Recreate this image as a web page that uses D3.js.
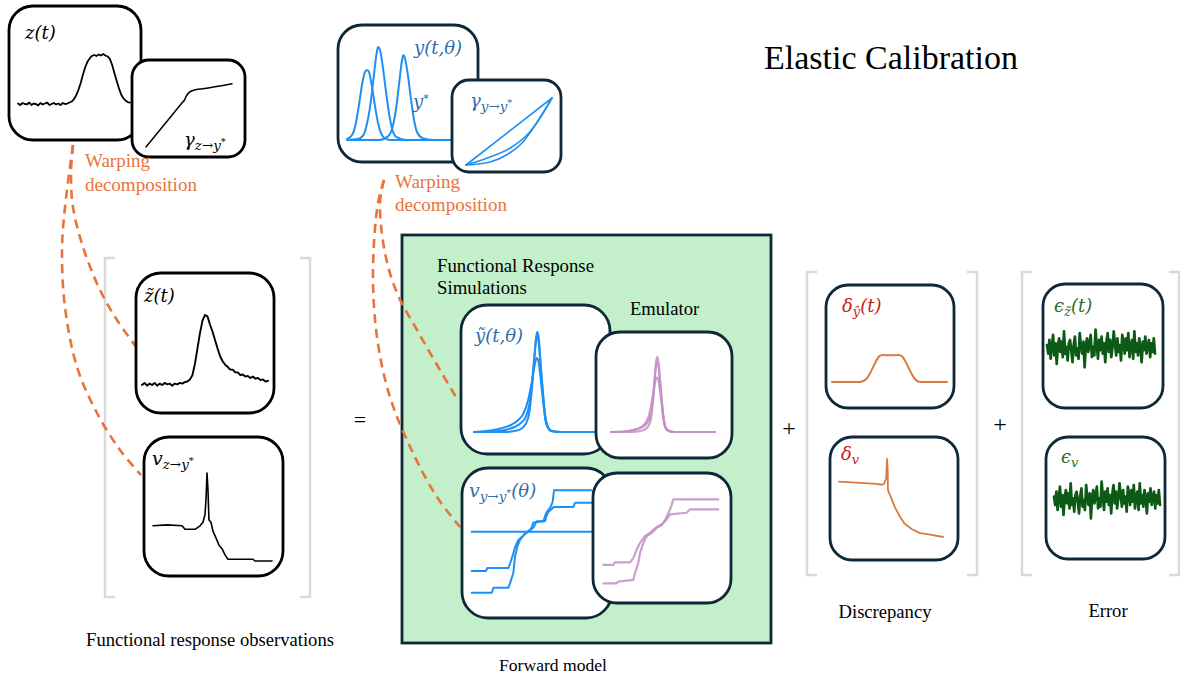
<!DOCTYPE html>
<html><head><meta charset="utf-8">
<script src="https://cdn.jsdelivr.net/npm/d3@7"></script>
<style>body{margin:0;background:#fff}svg{display:block}
.sf{font-family:"Liberation Serif","Times New Roman","DejaVu Serif",serif}
.mf{font-family:"DejaVu Serif","Liberation Serif",serif;font-style:italic}
</style>
</head><body><svg id="c" width="1180" height="679"></svg>
<script>
// ---------------- DATA ----------------
const zVals = [0.01,-0.02,0.02,0.0,-0.01,0.03,-0.02,0.01,0.0,-0.03,0.02,-0.01,0.01,0.03,-0.02,0.0,0.02,-0.01,0.01,-0.02,0.02,0.0,0.01,0.03,
  0.05,0.1,0.18,0.29,0.43,0.6,0.75,0.86,0.93,0.98,1.0,0.98,1.01,0.99,1.02,0.99,0.97,0.92,0.8,0.64,0.48,0.33,0.2,0.12,0.07,0.04,0.03];
const gammaZ = [[0,0],[0.42,0.69],[0.45,0.74],[0.47,0.8],[0.5,0.85],[0.56,0.89],[0.66,0.91],[1,0.99]];
const yRun1 = [[0,0.01],[5,0.06],[8,0.17],[11,0.37],[14,0.6],[17,0.74],[18.5,0.75],[20,0.74],[23,0.58],[26,0.36],[29,0.17],[32,0.06],[35,0.02],[40,0],[100,0]];
const yRun2 = [[0,0],[10,0.01],[15,0.05],[18,0.15],[21,0.33],[24,0.6],[27,0.9],[28.7,1.0],[30.5,0.97],[33,0.8],[36,0.53],[39,0.28],[42,0.11],[46,0.03],[55,0],[100,0]];
const yRun3 = [[0,0],[30,0],[38,0.04],[42,0.13],[45,0.3],[48,0.58],[51,0.86],[52,0.91],[53,0.9],[56,0.73],[59,0.46],[62,0.22],[65,0.08],[70,0.02],[80,0],[100,0]];
const gammaY1 = [[0,0],[1,1]];
const gammaY2 = [[0,0],[0.24,0.1],[0.51,0.25],[0.74,0.49],[1,1]];
const gammaY3 = [[0,0],[0.28,0.045],[0.47,0.15],[0.66,0.34],[0.83,0.64],[1,1]];
const ztVals = [0.0,0.03,-0.01,0.02,0.0,0.03,-0.01,0.02,0.0,0.03,0.01,0.02,-0.01,0.02,0.01,0.03,0.02,0.04,
  0.05,0.08,0.14,0.3,0.52,0.74,0.92,1.0,0.98,0.86,0.76,0.64,0.52,0.41,0.34,0.29,0.26,0.22,0.22,0.18,0.18,0.14,0.15,0.12,0.13,0.1,0.12,0.09,0.1,0.07,0.08,0.05,0.06];
const vzPts = [[0,0.4],[12,0.41],[24.4,0.4],[26.9,0.36],[35.3,0.36],[39.5,0.4],[42,0.44],[43.7,0.53],[44.5,0.69],[45.4,1.0],[46.2,0.81],[47,0.47],[48.7,0.44],[50.4,0.34],[53,0.26],[55.5,0.18],[58,0.14],[60.5,0.07],[63,0.02],[84,0.02],[85.7,0],[100,0]];
const ytRun1 = [[0,0],[25,0],[33,0.01],[38,0.03],[42,0.08],[45,0.2],[47,0.42],[49,0.72],[50.5,0.95],[51.5,1.0],[52.5,0.95],[54,0.72],[56,0.4],[58,0.15],[60,0.05],[63,0.01],[70,0],[100,0]];
const ytRun2 = [[0,0],[15,0.005],[25,0.02],[33,0.05],[38,0.09],[42,0.15],[45,0.28],[47,0.48],[49,0.75],[50.5,0.92],[51.5,0.95],[52.5,0.9],[54,0.68],[56,0.38],[58,0.14],[60,0.05],[63,0.01],[70,0],[100,0]];
const ytRun3 = [[0,0],[10,0.01],[20,0.03],[30,0.07],[36,0.12],[40,0.18],[44,0.32],[47,0.5],[49,0.65],[51,0.74],[52.5,0.7],[54,0.55],[56,0.32],[58,0.12],[60,0.04],[63,0.01],[70,0],[100,0]];
const emRun1 = [[0,0],[20,0],[30,0.02],[35,0.06],[38,0.15],[40,0.35],[42,0.7],[43.5,0.95],[44.5,1],[45.5,0.95],[47,0.7],[49,0.38],[51,0.14],[53,0.04],[56,0.01],[62,0],[100,0]];
const emRun2 = [[0,0],[15,0.01],[25,0.04],[32,0.08],[36,0.15],[39,0.3],[41,0.55],[43,0.85],[44.5,0.93],[46,0.85],[48,0.55],[50,0.25],[52,0.08],[55,0.02],[60,0],[100,0]];
const emRun3 = [[0,0],[15,0.01],[25,0.04],[32,0.1],[36,0.2],[39,0.38],[41,0.55],[43,0.7],[44.5,0.73],[46,0.66],[48,0.45],[50,0.22],[52,0.08],[55,0.02],[60,0],[100,0]];
const vyRun1 = [[0,0],[16.7,0],[18.1,0.048],[30.6,0.048],[31.9,0.09],[34.7,0.19],[36.1,0.35],[38.1,0.45],[40.3,0.51],[43.6,0.56],[47.2,0.59],[50,0.63],[51.4,0.68],[59.7,0.69],[61.1,0.74],[62.5,0.78],[65.8,0.83],[67.5,0.88],[68.6,0.99],[100,0.99]];
const vyRun2 = [[0,0.21],[11.9,0.21],[13.1,0.24],[30.6,0.24],[31.9,0.28],[34.7,0.38],[36.1,0.44],[38.9,0.51],[41.7,0.54],[45.3,0.58],[49.2,0.61],[51.4,0.63],[54.2,0.69],[61.1,0.69],[62.5,0.75],[63.9,0.78],[67.5,0.82],[68.6,0.83],[84.7,0.83],[86.1,0.87],[100,0.87]];
const vyRun3 = [[0,0.59],[100,0.59]];
const evRun1 = [[0,0],[11.6,0],[13,0.02],[26,0.04],[27.5,0.12],[30.4,0.24],[31.9,0.36],[34.8,0.48],[37.7,0.56],[42,0.6],[46.4,0.66],[50.7,0.69],[53.6,0.75],[56.5,0.83],[59.4,0.93],[60.9,1],[100,1]];
const evRun2 = [[0,0.22],[8.7,0.22],[10.1,0.25],[23.2,0.25],[26.1,0.3],[29,0.4],[31.9,0.48],[36.2,0.56],[40.6,0.6],[46.4,0.67],[49.3,0.69],[52.2,0.72],[55.1,0.76],[58,0.82],[72.5,0.84],[75.4,0.88],[100,0.88]];
const evRun3 = [[0,0.6],[100,0.6]];
const deltaY = [[0,0],[22,0],[26,0.02],[30,0.12],[34,0.4],[38,0.75],[41,0.95],[44,1],[51,0.99],[58,1],[61,0.95],[64,0.75],[68,0.4],[72,0.12],[75,0.02],[79,0],[100,0]];
const deltaV = [[0,0.71],[12,0.7],[24,0.69],[36,0.68],[41,0.67],[43.3,0.68],[45.3,0.75],[46.2,1.0],[46.8,0.85],[47.1,0.6],[49,0.54],[53.8,0.38],[58.7,0.26],[62.5,0.18],[66,0.14],[70.2,0.1],[77.9,0.05],[87.5,0.03],[100,0]];
const noiseVals = [0.2,-0.3,0.5,-0.6,0.1,0.8,-0.4,0.3,-0.9,0.2,0.6,-0.2,0.4,-0.5,1.0,-0.3,0.1,-0.7,0.3,0.5,
  -0.1,-0.8,0.2,0.7,-0.4,0.0,-0.6,0.9,0.1,-0.3,0.4,-1.1,0.2,0.6,-0.2,0.3,0.8,-0.5,0.1,-0.4,
  1.1,0.2,-0.6,0.5,-0.1,0.7,-0.3,0.3,-0.8,0.4,0.9,-0.2,0.5,-0.5,0.1,1.0,0.3,-0.4,0.6,-0.2,
  0.2,-0.7,0.8,0.4,-0.3,0.6,-0.1,0.9,-0.5,0.2,0.5,-0.6,1.0,-0.2,0.3,-0.4,0.6,0.1,-0.8,0.4,
  -0.1,0.7,-0.3,0.2,0.5,-0.5,0.3,-0.2,0.6,-0.3];
const titleText = "Elastic Calibration";
const captions = ["Functional response observations","Forward model","Discrepancy","Error"];
const warpText = ["Warping","decomposition"];
const simText = ["Functional Response","Simulations"];
const emuText = "Emulator";

// ---------------- STYLE ----------------
const C = {navy:"#0f2838", black:"#000", blue:"#1e8ff5", blueLab:"#2f6ea8", purple:"#c48fc6",
  orange:"#e8743b", disc:"#da7a3e", green:"#0b5a14", red:"#c8201c", greenLab:"#2e6b2e",
  gray:"#d9d9d9", fill:"#c3efca"};

const svg = d3.select("#c");
const defs = svg.append("defs");
defs.append("filter").attr("id","soft").append("feGaussianBlur").attr("stdDeviation",0.55);
defs.append("filter").attr("id","soft2").append("feGaussianBlur").attr("stdDeviation",0.65);

function box(x,y,w,h,r,stroke){
  svg.append("rect").attr("x",x).attr("y",y).attr("width",w).attr("height",h).attr("rx",r).attr("ry",r)
    .attr("fill","#fff").attr("stroke",stroke).attr("stroke-width",2.8);
}
function curve(pts, xr, yr, xd, yd, style){
  const data = typeof pts[0] === "number" ? pts.map((v,i)=>[i*(xd[1]-xd[0])/(pts.length-1)+xd[0], v]) : pts;
  const xs = d3.scaleLinear().domain(xd).range(xr);
  const ys = d3.scaleLinear().domain(yd).range(yr);
  const line = d3.line().x(d=>xs(d[0])).y(d=>ys(d[1])).curve(style.curve || d3.curveLinear);
  const p = svg.append("path").attr("d",line(data)).attr("fill","none")
    .attr("stroke",style.color).attr("stroke-width",style.w||2).attr("stroke-linejoin","round").attr("stroke-linecap","round");
  if(style.op) p.attr("opacity",style.op);
  if(style.filter) p.attr("filter",style.filter);
}
function label(x,y,parts,color){
  const t = svg.append("text").attr("class","mf").attr("x",x).attr("y",y).attr("fill",color);
  parts.forEach(p=>t.append("tspan").text(p[0]).attr("dy",p[1]).style("font-size",p[2]+"px"));
}
function text(x,y,s,size,color,anchor){
  svg.append("text").attr("class","sf").attr("x",x).attr("y",y).text(s).style("font-size",size+"px")
    .attr("fill",color||"#000").attr("text-anchor",anchor||"start");
}
function bracket(x,y0,y1,dir){
  svg.append("path").attr("d",`M${x+dir*10},${y0}H${x}V${y1}H${x+dir*10}`).attr("fill","none")
    .attr("stroke",C.gray).attr("stroke-width",2.5);
}
const dash = (pts)=>svg.append("path").attr("d",d3.line().curve(d3.curveCatmullRom.alpha(0.5))(pts))
  .attr("fill","none").attr("stroke",C.orange).attr("stroke-width",2.6).attr("stroke-dasharray","9,6");

// ---------------- TOP ROW ----------------
text(891,69,titleText,34,"#000","middle");

box(9,6,132,134,24,C.black);
curve(zVals,[18,130],[104,55],[0,100],[0,1],{color:C.black,w:1.8});
label(25,39,[["z(t)",0,18]],"#000");
box(132,60,113,97,17,C.black);
curve(gammaZ,[146,232],[147,83],[0,1],[0,1],{color:C.black,w:1.5,curve:d3.curveMonotoneX});
label(184,146,[["γ",0,18],["z→y",4,13.5],["*",-5,10]],"#000");
text(85,167,warpText[0],19,C.orange);
text(85,191,warpText[1],19,C.orange);

box(338,25,140,137,24,C.navy);
[yRun1,yRun2,yRun3].forEach(r=>curve(r,[347,455],[140,47],[0,100],[0,1],{color:C.blue,w:2,curve:d3.curveMonotoneX}));
label(414,54,[["y(t,θ)",0,18]],C.blueLab);
label(413,108,[["y",0,18],["*",-6,11]],C.blueLab);
box(452,80,109,92,17,C.navy);
[gammaY1,gammaY2,gammaY3].forEach(r=>curve(r,[466,552],[165,98],[0,1],[0,1],{color:C.blue,w:1.6,curve:d3.curveMonotoneX}));
label(470,107,[["γ",0,18],["y→y",4,13.5],["*",-5,10]],C.blueLab);
text(395,188,warpText[0],19,C.orange);
text(395,211,warpText[1],19,C.orange);

// ---------------- OBSERVATIONS ----------------
bracket(105,258,597,1);
bracket(310,258,597,-1);
text(210,646,captions[0],18.6,"#000","middle");
text(360,427,"=",22,"#000","middle");

// ---------------- FORWARD MODEL ----------------
svg.append("rect").attr("x",402).attr("y",235).attr("width",369).attr("height",408)
  .attr("fill",C.fill).attr("stroke",C.navy).attr("stroke-width",2.8);
text(437,272,simText[0],18.8);
text(437,294,simText[1],18.8);
text(630,315,emuText,18.6);
text(553,671,captions[1],17.6,"#000","middle");

dash([[73,145],[71,173],[73,207],[83,247],[100,290],[117,320],[137,348]]);
dash([[73,145],[65,207],[62,250],[65,307],[77,367],[97,413],[120,450],[141,475]]);
dash([[384,180],[380,203],[385,253],[397,293],[417,330],[440,370],[456,397]]);
dash([[384,180],[378,203],[373,270],[377,337],[390,397],[413,453],[437,497],[460,527]]);

box(136,273,138,140,25,C.black);
curve(ztVals,[142,268],[385,315],[0,100],[0,1],{color:C.black,w:1.9});
label(144,302,[["z̃(t)",0,18]],"#000");
box(144,437,139,139,25,C.black);
curve(vzPts,[153,272],[561,473],[0,100],[0,1],{color:C.black,w:1.6});
label(152,465,[["v",0,19],["z→y",4,13.5],["*",-5,10]],"#000");

box(461,305,149,149,26,C.navy);
[ytRun1,ytRun2,ytRun3].forEach(r=>curve(r,[474,600],[432,332],[0,102.4],[0,1],{color:C.blue,w:2,curve:d3.curveMonotoneX}));
label(475,342,[["ỹ(t,θ)",0,18]],C.blueLab);
box(596,332,136,126,24,C.navy);
[emRun1,emRun2,emRun3].forEach(r=>curve(r,[611,715],[432,357],[0,100],[0,1],{color:C.purple,w:2.2,op:0.85,filter:"url(#soft)",curve:d3.curveMonotoneX}));

box(462,468,150,150,26,C.navy);
[vyRun1,vyRun2,vyRun3].forEach(r=>curve(r,[471.7,591.7],[592.7,489.3],[0,100],[0,1],{color:C.blue,w:2}));
label(469,497,[["v",0,19],["y→y",4,13.5],["*",-5,10],["(θ)",1,18]],C.blueLab);
box(593,473,138,130,24,C.navy);
[evRun1,evRun2,evRun3].forEach(r=>curve(r,[603.3,718.3],[583.3,499.3],[0,100],[0,1],{color:C.purple,w:2.2,op:0.85,filter:"url(#soft)"}));

// ---------------- DISCREPANCY ----------------
text(789,436,"+",24,"#000","middle");
bracket(807,272,575,1);
bracket(977,272,575,-1);
box(826,285,128,123,22,C.navy);
curve(deltaY,[832,947],[382,355],[0,100],[0,1],{color:C.disc,w:2,filter:"url(#soft)",curve:d3.curveMonotoneX});
label(842,312,[["δ",0,18],["ŷ",4,13],["(t)",-4,18]],C.red);
box(830,437,128,123,22,C.navy);
curve(deltaV,[839,943],[537,459],[0,100],[0,1],{color:C.disc,w:1.8,filter:"url(#soft)"});
label(841,460,[["δ",0,18],["v",4,13]],C.red);
text(885,618,captions[2],18.6,"#000","middle");

// ---------------- ERROR ----------------
text(1000,432,"+",24,"#000","middle");
bracket(1022,272,575,1);
bracket(1179,272,575,-1);
box(1043,284,120,124,22,C.navy);
curve(noiseVals,[1047,1155],[369,328],[0,89],[-1.2,1.2],{color:C.green,w:2.7,filter:"url(#soft2)"});
label(1054,312,[["ϵ",0,18],["z̃",4,13],["(t)",-4,18]],C.greenLab);
box(1046,437,119,122,22,C.navy);
curve(noiseVals,[1054,1160],[520,480],[0,89],[-1.2,1.2],{color:C.green,w:2.7,filter:"url(#soft2)"});
label(1061,463,[["ϵ",0,18],["v",4,13]],C.greenLab);
text(1108,617,captions[3],18.6,"#000","middle");
</script></body></html>
